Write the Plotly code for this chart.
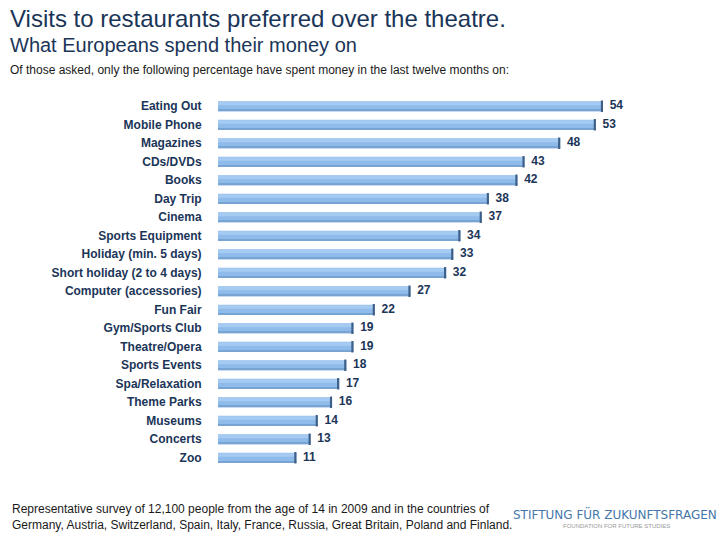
import plotly.graph_objects as go

categories = ["Eating Out", "Mobile Phone", "Magazines", "CDs/DVDs", "Books", "Day Trip",
              "Cinema", "Sports Equipment", "Holiday (min. 5 days)", "Short holiday (2 to 4 days)",
              "Computer (accessories)", "Fun Fair", "Gym/Sports Club", "Theatre/Opera",
              "Sports Events", "Spa/Relaxation", "Theme Parks", "Museums", "Concerts", "Zoo"]
values = [54, 53, 48, 43, 42, 38, 37, 34, 33, 32, 27, 22, 19, 19, 18, 17, 16, 14, 13, 11]

navy = "#1B3558"
font = "Liberation Sans, Arial, sans-serif"

fig = go.Figure()
# main bar body
fig.add_trace(go.Bar(y=categories, x=values, orientation="h", width=0.55,
                     marker=dict(color="#8EBBEA", line=dict(width=0)), hoverinfo="skip"))
# upper highlight
fig.add_trace(go.Bar(y=categories, x=values, orientation="h", width=0.2, offset=-0.25,
                     marker=dict(color="#A6CBF2", line=dict(width=0)), hoverinfo="skip"))
# lower shade
fig.add_trace(go.Bar(y=categories, x=values, orientation="h", width=0.08, offset=0.195,
                     marker=dict(color="#78A4D3", line=dict(width=0)), hoverinfo="skip"))
# dark end cap
cap = 0.3
fig.add_trace(go.Bar(y=categories, x=[cap] * len(values), base=[v - cap for v in values],
                     orientation="h", width=0.62,
                     marker=dict(color="#3E5F88", line=dict(width=0)), hoverinfo="skip"))
# value labels
fig.add_trace(go.Scatter(y=categories, x=values, mode="text",
                         text=["  <b>%d</b>" % v for v in values],
                         textposition="middle right",
                         textfont=dict(family=font, size=12, color=navy),
                         hoverinfo="skip", cliponaxis=False))

fig.update_layout(
    width=720, height=540, barmode="overlay", showlegend=False,
    paper_bgcolor="white", plot_bgcolor="white",
    margin=dict(l=218, r=2, t=97, b=73),
    xaxis=dict(range=[0, 500 / 7.13], showgrid=False, zeroline=False, showticklabels=False,
               showline=False, fixedrange=True),
    yaxis=dict(range=[19.5, -0.5], showgrid=False, zeroline=False, showline=False,
               ticks="outside", ticklen=13, tickcolor="rgba(0,0,0,0)",
               tickprefix="<b>", ticksuffix="</b>",
               tickfont=dict(family=font, size=12, color=navy), fixedrange=True),
    font=dict(family=font),
)

def px_y(y):
    return 1 - (y - 97) / 370

def px_x(x):
    return (x - 218) / 500

fig.add_annotation(text="Visits to restaurants preferred over the theatre.", xref="paper", yref="paper",
                   x=px_x(8), y=px_y(19), xanchor="left", yanchor="middle", showarrow=False,
                   font=dict(family=font, size=24, color=navy))
fig.add_annotation(text="What Europeans spend their money on", xref="paper", yref="paper",
                   x=px_x(8), y=px_y(45), xanchor="left", yanchor="middle", showarrow=False,
                   font=dict(family=font, size=20, color=navy))
fig.add_annotation(text="Of those asked, only the following percentage have spent money in the last twelve months on:",
                   xref="paper", yref="paper",
                   x=px_x(8), y=px_y(70), xanchor="left", yanchor="middle", showarrow=False,
                   font=dict(family=font, size=12, color="#1A1A1A"))
fig.add_annotation(text="Representative survey of 12,100 people from the age of 14 in 2009 and in the countries of<br>"
                        "Germany, Austria, Switzerland, Spain, Italy, France, Russia, Great Britain, Poland and Finland.",
                   xref="paper", yref="paper", align="left",
                   x=px_x(10), y=px_y(517), xanchor="left", yanchor="middle", showarrow=False,
                   font=dict(family=font, size=12, color="#1A1A1A"))
fig.add_annotation(text="STIFTUNG FÜR ZUKUNFTSFRAGEN", xref="paper", yref="paper",
                   x=px_x(615), y=px_y(514), xanchor="center", yanchor="middle",
                   showarrow=False, font=dict(family="DejaVu Sans, sans-serif", size=12, color="#4677AA"))
fig.add_annotation(text="FOUNDATION FOR FUTURE STUDIES", xref="paper", yref="paper",
                   x=px_x(616), y=px_y(526), xanchor="center", yanchor="middle",
                   showarrow=False, font=dict(family=font, size=6, color="#999999"))

fig.write_html("out.html", config={"displayModeBar": False},
               post_script="document.body.style.margin='0';")
